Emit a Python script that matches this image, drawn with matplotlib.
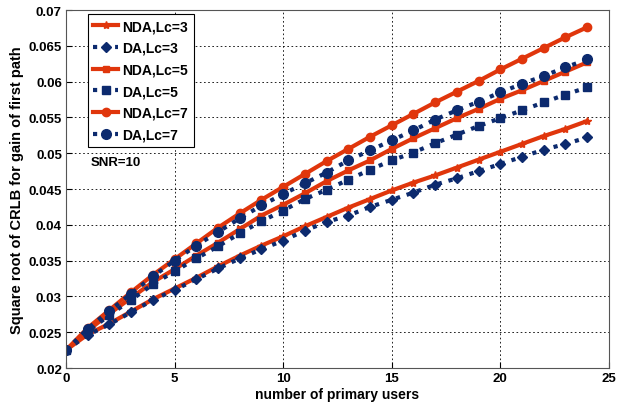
import matplotlib
matplotlib.use("Agg")
import matplotlib.pyplot as plt

users = list(range(25))

nda_lc3 = [0.0225, 0.0247, 0.0262, 0.0279, 0.0296, 0.0311, 0.0326, 0.0342, 0.0357, 0.0371,
           0.0384, 0.0398, 0.0411, 0.0424, 0.0436, 0.0448, 0.0459, 0.0469, 0.0480, 0.0491,
           0.0502, 0.0513, 0.0524, 0.0534, 0.0545]
da_lc3 = [0.0225, 0.0246, 0.0261, 0.0278, 0.0295, 0.0309, 0.0324, 0.0339, 0.0353, 0.0366,
          0.0378, 0.0392, 0.0404, 0.0413, 0.0425, 0.0435, 0.0445, 0.0456, 0.0465, 0.0475,
          0.0485, 0.0495, 0.0505, 0.0513, 0.0522]
nda_lc5 = [0.0225, 0.0252, 0.0276, 0.0298, 0.0320, 0.0338, 0.0357, 0.0375, 0.0394, 0.0413,
           0.0428, 0.0444, 0.0461, 0.0476, 0.0490, 0.0506, 0.0521, 0.0535, 0.0549, 0.0562,
           0.0576, 0.0588, 0.0601, 0.0614, 0.0627]
da_lc5 = [0.0225, 0.0251, 0.0274, 0.0295, 0.0317, 0.0335, 0.0353, 0.0370, 0.0388, 0.0405,
          0.0420, 0.0436, 0.0449, 0.0463, 0.0477, 0.0490, 0.0501, 0.0514, 0.0526, 0.0538,
          0.0549, 0.0560, 0.0571, 0.0582, 0.0592]
nda_lc7 = [0.0225, 0.0256, 0.0281, 0.0306, 0.0330, 0.0352, 0.0374, 0.0396, 0.0416, 0.0435,
           0.0453, 0.0471, 0.0489, 0.0506, 0.0523, 0.0539, 0.0555, 0.0571, 0.0586, 0.0601,
           0.0617, 0.0632, 0.0647, 0.0662, 0.0676]
da_lc7 = [0.0225, 0.0255, 0.0280, 0.0304, 0.0328, 0.0350, 0.0371, 0.0390, 0.0409, 0.0427,
          0.0443, 0.0458, 0.0473, 0.0490, 0.0504, 0.0518, 0.0532, 0.0547, 0.0560, 0.0572,
          0.0585, 0.0597, 0.0608, 0.0620, 0.0631]

RED = "#e0360c"
NAVY = "#0c2a6e"

plt.rcParams["font.family"] = ["Liberation Sans", "DejaVu Sans"]
plt.rcParams["font.weight"] = "bold"

fig = plt.figure(figsize=(6.29, 4.10), dpi=100, facecolor="white")
ax = fig.add_axes([0.105, 0.10, 0.863, 0.873])

series = [
    ("NDA,Lc=3", nda_lc3, RED, "-", "*", 6),
    ("DA,Lc=3", da_lc3, NAVY, ":", "D", 5),
    ("NDA,Lc=5", nda_lc5, RED, "-", "s", 5),
    ("DA,Lc=5", da_lc5, NAVY, ":", "s", 6),
    ("NDA,Lc=7", nda_lc7, RED, "-", "o", 6),
    ("DA,Lc=7", da_lc7, NAVY, ":", "o", 7),
]
for label, vals, col, ls, mk, ms in series:
    ax.plot(users, vals, color=col, linestyle=ls, linewidth=3, marker=mk,
            markersize=ms, markerfacecolor=col, markeredgecolor=col, label=label)

ax.set_xlim(0, 25)
ax.set_ylim(0.02, 0.07)
ax.set_xticks([0, 5, 10, 15, 20, 25])
ax.set_yticks([0.02, 0.025, 0.03, 0.035, 0.04, 0.045, 0.05, 0.055, 0.06, 0.065, 0.07])
ax.set_yticklabels(["0.02", "0.025", "0.03", "0.035", "0.04", "0.045", "0.05",
                    "0.055", "0.06", "0.065", "0.07"])
ax.grid(True, color="black", linestyle=(0, (2, 3)), linewidth=0.6)
ax.tick_params(direction="in", labelsize=9.5, length=4, pad=3)
for lab in ax.get_xticklabels() + ax.get_yticklabels():
    lab.set_fontweight("bold")
for sp in ax.spines.values():
    sp.set_color("#555555")

ax.set_xlabel("number of primary users", fontsize=10, fontweight="bold", labelpad=2)
ax.set_ylabel("Square root of CRLB for gain of first path", fontsize=10.5,
              fontweight="bold", labelpad=3)

ax.text(2.3, 0.0488, "SNR=10", fontsize=9.5, fontweight="bold", ha="center", va="center")

leg = ax.legend(loc="upper left", bbox_to_anchor=(0.04, 0.99), fontsize=10,
                frameon=True, fancybox=False, edgecolor="black", framealpha=1,
                handlelength=1.8, handletextpad=0.3, borderpad=0.4, labelspacing=0.55,
                borderaxespad=0)
leg.get_frame().set_linewidth(0.8)
for t in leg.get_texts():
    t.set_fontweight("bold")

fig.savefig("out.png", dpi=100, facecolor="white")
